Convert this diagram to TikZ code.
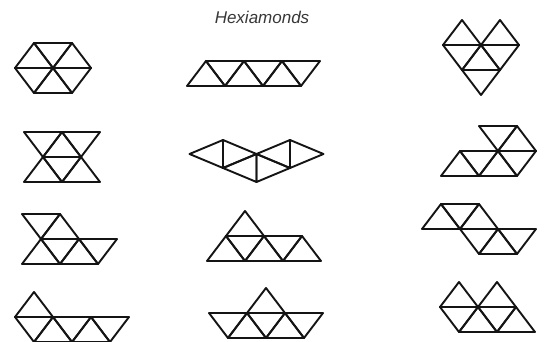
\documentclass[tikz,border=0pt]{standalone}
\usepackage{fontspec}
\setmainfont{Liberation Sans}
\newcommand\tup[2]{\draw[edge] (#1,#2) -- (#1+1,#2) -- (#1,#2+1) -- cycle;}
\newcommand\tdn[2]{\draw[edge] (#1+1,#2) -- (#1,#2+1) -- (#1+1,#2+1) -- cycle;}
\begin{document}
\begin{tikzpicture}[x=1pt,y=-1pt,
  edge/.style={draw=black!92, line width=1.9pt, line join=round, line cap=round},
  lat/.style={x={(38pt,0pt)}, y={(19pt,25pt)}},
  rotlat/.style={x={(0pt,28pt)}, y={(33.5pt,14pt)}}]
\useasboundingbox (0,0) rectangle (544,342);
\fill[white] (0,0) rectangle (544,342);
\node[font=\itshape\fontsize{17}{19}\selectfont, text=black!78] (title) at (262,17) {Hexiamonds};
% 1 hexagon
\begin{scope}[shift={(15pt,-68pt)}, lat]
\tup{0}{0}\tdn{0}{0}\tup{1}{0}\tdn{0}{-1}\tup{1}{-1}\tdn{1}{-1}
\end{scope}
% 2 bar
\begin{scope}[shift={(187pt,-86pt)}, lat]
\tup{0}{0}\tdn{0}{0}\tup{1}{0}\tdn{1}{0}\tup{2}{0}\tdn{2}{0}
\end{scope}
% 3 heart
\begin{scope}[shift={(443pt,-45pt)}, lat]
\tup{0}{0}\tdn{0}{-1}\tup{1}{0}\tdn{1}{-1}\tup{1}{-1}\tdn{1}{-2}
\end{scope}
% 4 hourglass
\begin{scope}[shift={(43pt,-157pt)}, lat]
\tdn{-1}{0}\tup{0}{0}\tdn{0}{0}\tup{0}{-1}\tdn{0}{-1}\tup{1}{-1}
\end{scope}
% 5 rotated
\begin{scope}[shift={(223pt,-168pt)}, rotlat]
\tup{0}{0}\tdn{0}{-1}\tdn{-1}{0}\tup{-1}{1}\tdn{-1}{1}\tup{-1}{2}
\end{scope}
% 6
\begin{scope}[shift={(460pt,-151pt)}, lat]
\tup{0}{-1}\tdn{0}{-1}\tup{1}{-1}\tdn{1}{-1}\tup{1}{0}\tdn{0}{0}
\end{scope}
% 7
\begin{scope}[shift={(41pt,-239pt)}, lat]
\tdn{-1}{0}\tup{0}{0}\tup{0}{-1}\tdn{0}{-1}\tup{1}{-1}\tdn{1}{-1}
\end{scope}
% 8
\begin{scope}[shift={(226pt,-236pt)}, lat]
\tup{0}{0}\tup{0}{-1}\tdn{0}{-1}\tup{1}{-1}\tdn{1}{-1}\tup{2}{-1}
\end{scope}
% 9
\begin{scope}[shift={(460pt,-229pt)}, lat]
\tup{-1}{0}\tdn{-1}{0}\tup{0}{0}\tdn{0}{-1}\tup{1}{-1}\tdn{1}{-1}
\end{scope}
% 10
\begin{scope}[shift={(15pt,-317pt)}, lat]
\tup{0}{0}\tdn{0}{-1}\tup{1}{-1}\tdn{1}{-1}\tup{2}{-1}\tdn{2}{-1}
\end{scope}
% 11
\begin{scope}[shift={(247pt,-313pt)}, lat]
\tup{0}{0}\tdn{-1}{-1}\tup{0}{-1}\tdn{0}{-1}\tup{1}{-1}\tdn{1}{-1}
\end{scope}
% 12
\begin{scope}[shift={(440pt,-307pt)}, lat]
\tup{0}{0}\tup{1}{0}\tdn{0}{-1}\tup{1}{-1}\tdn{1}{-1}\tup{2}{-1}
\end{scope}
\end{tikzpicture}
\end{document}
